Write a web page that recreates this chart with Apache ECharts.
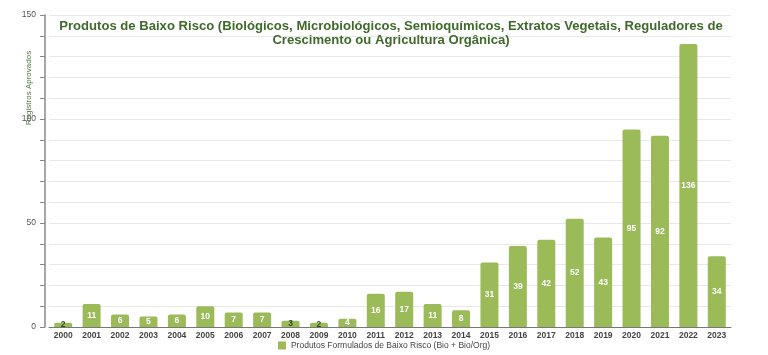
<!DOCTYPE html>
<html><head><meta charset="utf-8">
<script src="https://cdn.jsdelivr.net/npm/echarts@6/dist/echarts.min.js"></script>
<style>html,body{margin:0;padding:0;background:#fff}#c{width:768px;height:355px}</style>
</head><body><div id="c"></div>
<script>
const years = ['2000','2001','2002','2003','2004','2005','2006','2007','2008','2009','2010','2011','2012','2013','2014','2015','2016','2017','2018','2019','2020','2021','2022','2023'];
const values = [2,11,6,5,6,10,7,7,3,2,4,16,17,11,8,31,39,42,52,43,95,92,136,34];
const seriesName = 'Produtos Formulados de Baixo Risco (Bio + Bio/Org)';
const titleText = 'Produtos de Baixo Risco (Biológicos, Microbiológicos, Semioquímicos, Extratos Vegetais, Reguladores de\nCrescimento ou Agricultura Orgânica)';
const yName = 'Registros Aprovados';

const chart = echarts.init(document.getElementById('c'));
const barColor = '#9bbb59';
const ff = 'Liberation Sans, Arial, sans-serif';
chart.setOption({
  animation: false,
  title: {
    text: titleText, top: 19, left: 391, textAlign: 'center', padding: 0,
    textStyle: {fontFamily: ff, fontSize: 13.1, fontWeight: 'bold', color: '#3f6a2c', lineHeight: 14, align: 'center'}
  },
  grid: {left: 49, right: 37, top: 15, bottom: 28},
  legend: {
    bottom: 5, left: 'center', itemWidth: 8, itemHeight: 8, icon: 'rect', padding: 0,
    textStyle: {fontFamily: ff, fontSize: 8.5, color: '#444'},
    itemGap: 5
  },
  xAxis: {
    type: 'category', data: years,
    axisLine: {lineStyle: {color: '#777', width: 1}},
    axisTick: {show: false},
    axisLabel: {fontFamily: ff, fontSize: 8.5, fontWeight: 'bold', color: '#444', margin: 4}
  },
  yAxis: {
    type: 'value', min: 0, max: 150, interval: 10, offset: 4,
    axisLine: {show: true, lineStyle: {color: '#888', width: 1.5}},
    axisTick: {show: true, length: 5, lineStyle: {color: '#888'}},
    splitLine: {lineStyle: {color: '#e8e8e8'}},
    axisLabel: {
      fontFamily: ff, fontSize: 8.5, color: '#555', margin: 9,
      formatter: v => (v % 50 === 0 ? String(v) : '')
    }
  },
  graphic: [{
    type: 'text', x: 29, y: 88, rotation: Math.PI / 2,
    style: {text: yName, fontFamily: ff, fontSize: 8, fill: '#4d7d3a', align: 'center', verticalAlign: 'middle'}
  }],
  series: [{
    name: seriesName, type: 'bar', barWidth: 18,
    itemStyle: {color: barColor, borderRadius: [2, 2, 0, 0]},
    data: values.map(v => ({
      value: v,
      label: v <= 3 ? {color: '#2f4a1c'} : undefined
    })),
    label: {
      show: true, position: 'inside',
      fontFamily: ff, fontSize: 8.5, fontWeight: 'bold', color: '#fff'
    }
  }]
});
</script></body></html>
